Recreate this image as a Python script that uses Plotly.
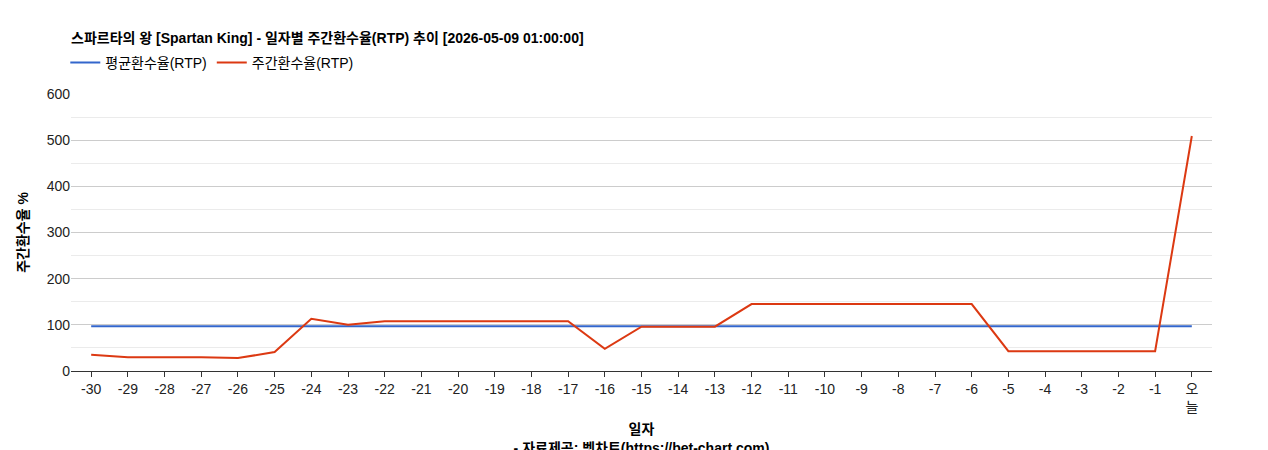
import plotly.graph_objects as go

days = [str(d) for d in range(-30, 0)] + ["오<br>늘"]
avg_rtp = [97] * 31
weekly_rtp = [35, 30, 30, 30, 28, 41, 113, 100, 108, 108, 108, 108, 108, 108, 48, 96, 96, 96,
              145, 145, 145, 145, 145, 145, 145, 43, 43, 43, 43, 43, 509]

F = "Arial, Liberation Sans, Noto Sans CJK KR"
fig = go.Figure()
fig.add_trace(go.Scatter(x=days, y=avg_rtp, mode="lines", name="평균환수율(RTP)",
                         line=dict(color="#3366cc", width=2)))
fig.add_trace(go.Scatter(x=days, y=weekly_rtp, mode="lines", name="주간환수율(RTP)",
                         line=dict(color="#dc3912", width=2)))
fig.update_layout(
    width=1268, height=450, margin=dict(l=63, r=64, t=86, b=87, autoexpand=False),
    paper_bgcolor="white", plot_bgcolor="white",
    font=dict(family=F, size=14, color="#222"),
    title=dict(text="<b>스파르타의 왕 [Spartan King] - 일자별 주간환수율(RTP) 추이 [2026-05-09 01:00:00]</b>",
               x=63/1268, xref="container", xanchor="left", yref="container",
               y=1-30/450, yanchor="middle", font=dict(size=14, color="#000")),
    legend=dict(orientation="h", x=-0.005, y=(363-55)/277, xanchor="left", yanchor="middle",
                font=dict(size=14, color="#000")),
    showlegend=True,
)
fig.update_xaxes(type="category", range=[-0.55, 30.55], showgrid=False,
                 showline=True, linecolor="#333", ticks="outside", ticklen=5, tickcolor="#333",
                 tickfont=dict(size=14, color="#222"), automargin=False,
                 title=dict(text="<b>일자</b><br><b>- 자료제공: 벳차트(https://bet-chart.com)</b>",
                            font=dict(size=14, color="#000"), standoff=10))
fig.update_yaxes(range=[0, 600], dtick=100, gridcolor="#cccccc", zeroline=False,
                 minor=dict(dtick=50, showgrid=True, gridcolor="#ebebeb"),
                 tickfont=dict(size=14, color="#222"), automargin=False,
                 title=dict(text="<b>주간환수율 %</b>", font=dict(size=14, color="#000"), standoff=14))
fig.write_html("out.html")
